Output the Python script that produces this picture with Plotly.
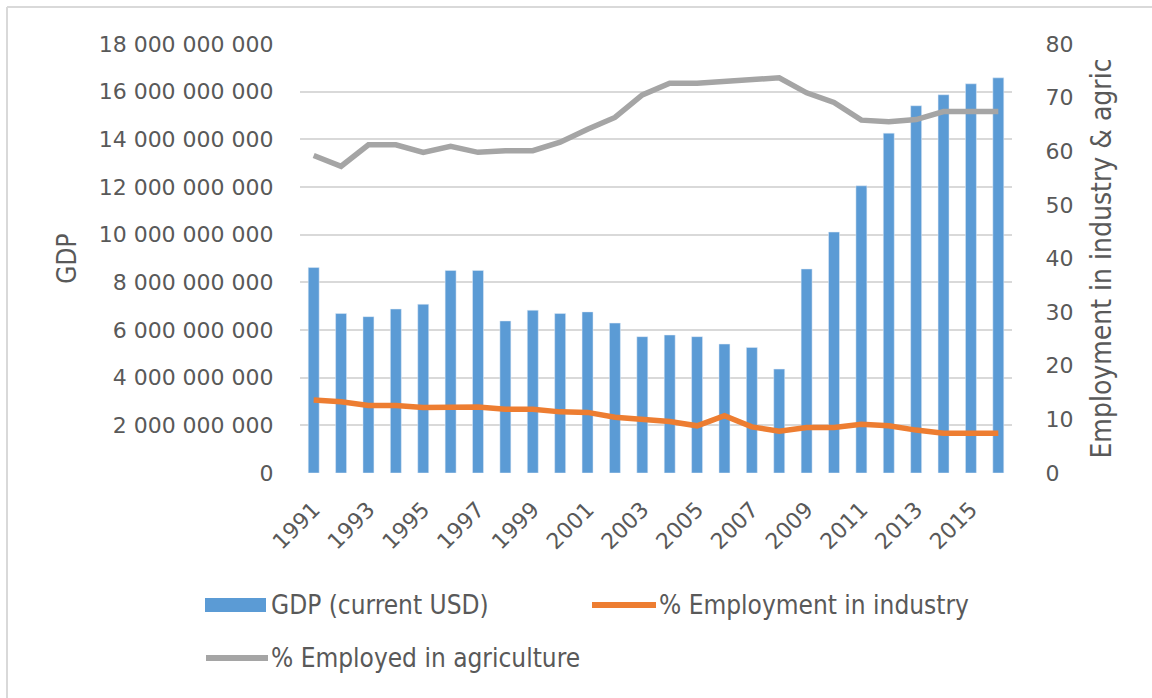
import plotly.graph_objects as go

years = list(range(1991, 2017))
gdp = [8.62e9, 6.69e9, 6.56e9, 6.88e9, 7.08e9, 8.50e9, 8.50e9, 6.38e9, 6.83e9, 6.69e9,
       6.76e9, 6.29e9, 5.72e9, 5.79e9, 5.72e9, 5.41e9, 5.27e9, 4.36e9, 8.56e9, 10.11e9,
       12.05e9, 14.26e9, 15.41e9, 15.87e9, 16.33e9, 16.58e9]
industry = [13.6, 13.3, 12.6, 12.6, 12.2, 12.2, 12.3, 11.9, 11.9, 11.4,
            11.3, 10.4, 9.9, 9.6, 8.8, 10.7, 8.6, 7.8, 8.5, 8.5,
            9.1, 8.8, 8.0, 7.4, 7.4, 7.4]
agriculture = [59.2, 57.2, 61.2, 61.2, 59.8, 60.9, 59.8, 60.1, 60.1, 61.7,
               64.1, 66.3, 70.5, 72.7, 72.7, 73.1, 73.3, 73.7, 70.9, 69.1,
               65.8, 65.5, 65.9, 67.4, 67.4, 67.4]
names = ["GDP (current USD)", "% Employment in industry", "% Employed in agriculture"]

BLUE = "#5B9BD5"
ORANGE = "#ED7D31"
GREY = "#A5A5A5"
TXT = "#595959"
TICKFONT = dict(family="DejaVu Sans", size=22, color=TXT)
NARROW = "DejaVu Sans Condensed, Roboto"
LEGFONT = dict(family=NARROW, size=26, color=TXT)
TITLEFONT = dict(family=NARROW, size=26, color=TXT)
RTITLEFONT = dict(family=NARROW, size=28, color=TXT)

fig = go.Figure()
fig.add_trace(go.Bar(x=years, y=gdp, name=names[0], marker_color=BLUE,
                     width=0.4, yaxis="y"))
fig.add_trace(go.Scatter(x=years, y=industry, name=names[1], mode="lines",
                         line=dict(color=ORANGE, width=5.5), yaxis="y2"))
fig.add_trace(go.Scatter(x=years, y=agriculture, name=names[2], mode="lines",
                         line=dict(color=GREY, width=5.5), yaxis="y2"))

L, R, T, B = 300, 140, 44, 225
W, H = 1152, 698
pw, ph = W - L - R, H - T - B

def px_x(x):
    return (x - L) / pw

def px_y(y):
    return (H - B - y) / ph

# manual legend (symbols + text)
shapes = [
    dict(type="line", xref="paper", yref="paper", x0=px_x(7), x1=px_x(1160),
         y0=px_y(7), y1=px_y(7), line=dict(color="#D9D9D9", width=2)),
    dict(type="line", xref="paper", yref="paper", x0=px_x(7), x1=px_x(7),
         y0=px_y(7), y1=px_y(705), line=dict(color="#D9D9D9", width=2)),
    dict(type="rect", xref="paper", yref="paper", x0=px_x(205), x1=px_x(266),
         y0=px_y(598), y1=px_y(612), fillcolor=BLUE, line=dict(width=0)),
    dict(type="line", xref="paper", yref="paper", x0=px_x(592), x1=px_x(656),
         y0=px_y(605), y1=px_y(605), line=dict(color=ORANGE, width=6)),
    dict(type="line", xref="paper", yref="paper", x0=px_x(206), x1=px_x(268),
         y0=px_y(658), y1=px_y(658), line=dict(color=GREY, width=6)),
]
annotations = [
    dict(text=names[0], x=px_x(269), y=px_y(605), xref="paper", yref="paper",
         xanchor="left", yanchor="middle", showarrow=False, font=LEGFONT),
    dict(text=names[1], x=px_x(657), y=px_y(605), xref="paper", yref="paper",
         xanchor="left", yanchor="middle", showarrow=False, font=LEGFONT),
    dict(text=names[2], x=px_x(269), y=px_y(658), xref="paper", yref="paper",
         xanchor="left", yanchor="middle", showarrow=False, font=LEGFONT),
]

fig.update_layout(
    width=W, height=H,
    margin=dict(l=L, r=R, t=T, b=B),
    paper_bgcolor="white", plot_bgcolor="white",
    separators=". ",
    showlegend=False,
    xaxis=dict(range=[1990.5, 2016.5], tick0=1991, dtick=2, tickangle=-45,
               tickfont=TICKFONT, showgrid=False, zeroline=False, showline=False,
               ticks="outside", ticklen=14, tickcolor="rgba(0,0,0,0)"),
    yaxis=dict(range=[0, 18e9], dtick=2e9, tickformat=",.0f", tickfont=TICKFONT,
               showgrid=True, gridcolor="#D9D9D9", gridwidth=1.5, zeroline=False,
               showline=False, ticks="outside", ticklen=21, tickcolor="rgba(0,0,0,0)",
               title=dict(text="GDP", font=TITLEFONT, standoff=14)),
    yaxis2=dict(range=[0, 80], dtick=10, overlaying="y", side="right", tickfont=TICKFONT,
                showgrid=False, zeroline=False, showline=False,
                ticks="outside", ticklen=28, tickcolor="rgba(0,0,0,0)",
                title=dict(text="Employment in industry & agric", font=RTITLEFONT, standoff=18)),
    shapes=shapes,
    annotations=annotations,
)

fig.write_html("out.html")
